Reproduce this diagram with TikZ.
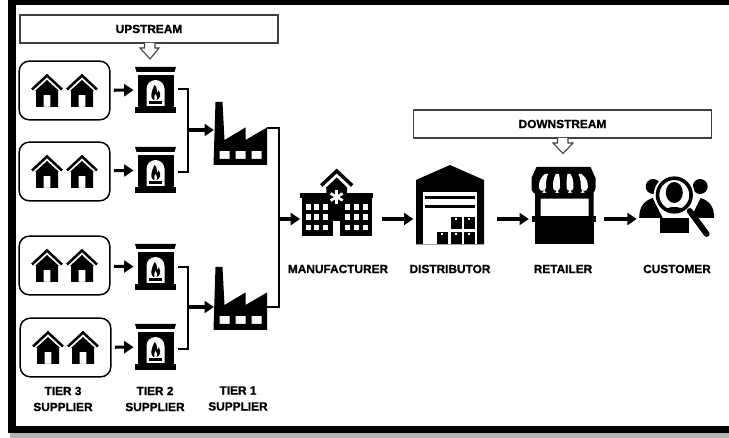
\documentclass[tikz,border=0pt]{standalone}
\usepackage{fontspec}
\setmainfont[BoldFeatures={FakeBold=0.9}]{Liberation Sans}
\usetikzlibrary{arrows.meta,positioning}

\def\u{0.75}
\tikzset{
	x=\u pt,y=-\u pt,
	anchorbox/.style={inner sep=0pt,outer sep=0pt},
	label text/.style={anchorbox,font=\bfseries\fontsize{8.9}{12}\selectfont,align=center},
	group box/.style={anchorbox,draw,rounded corners=7.5pt,line width=1.1pt,minimum width=68pt,minimum height=44pt},
	stream box/.style={anchorbox,draw=black!75,line width=0.9pt,minimum height=21pt,font=\bfseries\fontsize{8.9}{9}\selectfont},
	stream arrow/.style={draw=black!75,fill=white,line width=0.8pt,line join=miter},
	link/.style={line width=1.5pt},
	flow/.style={line width=2.3pt,-{Triangle[length=7pt,width=9pt]}},
	pics/homes/.style={code={
		\foreach \hx in {-17.5,17.5}{
			\begin{scope}[shift={(\hx,-16.5)}]
				\draw[line width=1.9pt,line join=miter] (-15,15.5) -- (0,1.5) -- (15,15.5);
				\fill[even odd rule] (0,6) -- (12,17) -- (11,17) -- (11,33) -- (-11,33) -- (-11,17) -- (-12,17) -- cycle
					(-3.3,21) rectangle (3.3,33);
			\end{scope}
		}
	}},
	pics/fireplace/.style={code={
		\begin{scope}[shift={(0,-23)}]
			\fill (-20.5,0) -- (20.5,0) -- (19,5) -- (-19,5) -- cycle;
			\fill (-18,8) rectangle (18,40);
			\fill (-20.5,40) rectangle (20.5,46);
			\fill[white] (-9,39) -- (-9,22) arc[start angle=180,end angle=360,radius=9] -- (9,39) -- cycle;
			\fill (-6.5,34.5) rectangle (6.5,37);
			\fill (-1,18) .. controls (3,21) and (0,24) .. (2,26) .. controls (3,25) and (3,24) .. (3,23)
				.. controls (6,27) and (5,32) .. (1,33) -- (-2,33) .. controls (-6,31) and (-4,24) .. (-1,18) -- cycle;
			\fill[white] (0,27) .. controls (2,29) and (2,31) .. (1,33) -- (-1,33) .. controls (-2,31) and (-1,29) .. (0,27) -- cycle;
		\end{scope}
	}},
	pics/factory/.style={code={
		\fill[even odd rule] (-25,0) -- (-18,0) -- (-16,38) -- (5,25.5) -- (5,38) -- (26.5,25.5)
			-- (26.5,63) -- (-27,63) -- cycle
			(-21,49) rectangle (-11,57) (-5,49) rectangle (5,57) (11,49) rectangle (21,57);
	}},
	pics/hospital/.style={code={
		\begin{scope}[shift={(0,-51)}]
			\draw[line width=2.6pt,line join=miter] (-15.5,17.5) -- (0,3) -- (15.5,17.5);
			\fill (0,9.5) -- (-10.5,19.5) -- (-10,30) -- (10,30) -- (10.5,19.5) -- cycle;
			\fill (-36.7,25) rectangle (36.7,30);
			\fill (-35,30) rectangle (35,67.7);
			\foreach \wy in {36,46,56.7}{
				\foreach \wx in {-31,-22.3,-13.3,8.3,17.3,26.7}{
					\fill[white] (\wx,\wy) rectangle ++(5,5.7);
				}
			}
			\fill[white] (-3.3,52.7) rectangle (3.3,67.7);
			\foreach \a in {30,90,150}{
				\draw[white,line width=2pt] (0,29) ++(\a:7) -- ++(\a+180:14);
			}
		\end{scope}
	}},
	pics/warehouse/.style={code={
		\begin{scope}[shift={(0,-54)}]
			\fill (-34,15) -- (0,0) -- (34,15) -- (34,79.3) -- (-34,79.3) -- cycle;
			\fill[white] (-27.3,26.7) rectangle (27.3,79.3);
			\fill (-24.7,31) rectangle (25,34.3);
			\fill (-24.7,40) rectangle (25,43.3);
			\foreach \bx/\by in {-12.7/67.3,0.7/67.3,14/67.3,0.7/52.3,14/52.3}{
				\fill (\bx,\by) rectangle ++(11,12);
				\fill[white] (\bx+4,\by+1) rectangle ++(2,1.5);
			}
		\end{scope}
	}},
	pics/shop/.style={code={
		\begin{scope}[shift={(0,-52)}]
			\fill (-27,0) -- (27,0) -- (32,11) -- (32,21) arc[start angle=0,end angle=180,radius=6.4]
				arc[start angle=0,end angle=180,radius=6.4] arc[start angle=0,end angle=180,radius=6.4]
				arc[start angle=0,end angle=180,radius=6.4] arc[start angle=0,end angle=180,radius=6.4]
				-- (-32,11) -- cycle;
			\foreach \tx/\bx in {-17/-21,-6/-7,5.5/6.5,16.5/20.8}{
				\fill[white] (\tx-1.5,7) -- (\tx+1.5,7) .. controls (\bx+3.5,12) and (\bx+3.5,16) .. (\bx+3.5,20.5)
					.. controls (\bx+3.5,25) and (\bx-3.5,25) .. (\bx-3.5,20.5)
					.. controls (\bx-3.5,16) and (\bx-3.5,12) .. (\tx-1.5,7) -- cycle;
			}
			\fill[even odd rule] (-28.5,26) rectangle (30,50) (-22.8,31.7) rectangle (25,50);
			\fill (-32,49.3) rectangle (32,55);
			\fill (-28.5,55) rectangle (30,77.5);
		\end{scope}
	}},
	pics/searcher/.style={code={
		\begin{scope}[shift={(0,-32)}]
			\foreach \sgn in {-1,1}{
				\fill (\sgn*23.5,12.5) circle[radius=7.5];
				\fill (\sgn*37.5,44) .. controls (\sgn*37.5,33) and (\sgn*33,27) .. (\sgn*24,24)
					-- (\sgn*14,44) -- cycle;
			}
			\fill (-16.7,59) -- (-16.7,44) -- (12.3,44) -- (12.3,59) -- cycle;
			\fill[white] (-2.4,21) circle[radius=20.5];
			\begin{scope}
				\clip (-2.4,21) circle[radius=15.5];
				\fill (-2.4,46) ellipse[x radius=17,y radius=13];
			\end{scope}
			\fill (-2.4,18.5) ellipse[x radius=8.5,y radius=10.5];
			\draw[line width=2.7pt] (-2.4,21) circle[radius=16.8];
			\draw[line width=4.4pt,line cap=round] (13,37) -- (30,60);
		\end{scope}
	}},
}

\begin{document}
\begin{tikzpicture}
	% page and frame
	\useasboundingbox (0,0) rectangle (729,438);
	\fill[black!30] (10,433) rectangle (729,438);
	\fill (8,0) rectangle (729,5);
	\fill (8,0) rectangle (16,433);
	\fill (8,426) rectangle (729,433);

	% tier 3 boxes
	\node[group box] (homesA) at (64.5,90.5) {};
	\node[group box] (homesB) at (64.5,171.5) {};
	\node[group box] (homesC) at (64.5,265.5) {};
	\node[group box] (homesD) at (65.5,347.5) {};
	% icons are placed on invisible nodes
	\node[anchorbox,minimum width=31pt,minimum height=35pt] (fireA) at (155.5,90) {};
	\node[anchorbox,minimum width=31pt,minimum height=35pt] (fireB) at (155.5,170) {};
	\node[anchorbox,minimum width=31pt,minimum height=35pt] (fireC) at (155.5,267) {};
	\node[anchorbox,minimum width=31pt,minimum height=35pt] (fireD) at (155.5,347) {};
	\node[anchorbox,minimum width=40pt,minimum height=47pt] (factA) at (240.5,128) {};
	\node[anchorbox,minimum width=40pt,minimum height=47pt] (factB) at (240.5,307) {};
	\node[anchorbox,minimum width=55pt,minimum height=51pt] (maker) at (336.7,219) {};
	\node[anchorbox,minimum width=51pt,minimum height=59pt] (depot) at (450,219) {};
	\node[anchorbox,minimum width=48pt,minimum height=58pt] (store) at (563.5,219) {};
	\node[anchorbox,minimum width=56pt,minimum height=48pt] (buyer) at (676.7,206) {};

	\foreach \n in {homesA,homesB,homesC,homesD}{
		\pic at (\n) {homes};
	}
	\foreach \n in {fireA,fireB,fireC,fireD}{
		\pic at (\n) {fireplace};
	}
	\pic at (240.5,102) {factory};
	\pic at (240.5,267) {factory};
	\pic at (maker) {hospital};
	\pic at (depot) {warehouse};
	\pic at (store) {shop};
	\pic at (buyer) {searcher};

	% labels
	\node[label text] (tierC) at (63,399) {TIER 3\\SUPPLIER};
	\node[label text] (tierB) at (155,399) {TIER 2\\SUPPLIER};
	\node[label text] (tierA) at (238,398.5) {TIER 1\\SUPPLIER};
	\node[label text] (makerlabel) at (338,269) {MANUFACTURER};
	\node[label text] (depotlabel) at (450,269) {DISTRIBUTOR};
	\node[label text] (storelabel) at (563,269) {RETAILER};
	\node[label text] (buyerlabel) at (677,269) {CUSTOMER};

	% stream banners
	\node[stream box,minimum width=193.5pt] (up) at (149,29) {UPSTREAM};
	\node[stream box,minimum width=224pt] (down) at (562.5,124) {DOWNSTREAM};
	\draw[stream arrow] (144.5,43) -- (144.5,48) -- (140,48) -- (150,59) -- (159,48) -- (155,48) -- (155,43);
	\draw[stream arrow] (557.5,138) -- (557.5,143) -- (553,143) -- (563,153.5) -- (573,143) -- (568,143) -- (568,138);

	% connectors
	\foreach \a/\b in {homesA/fireA,homesB/fireB,homesC/fireC,homesD/fireD}{
		\draw[flow,shorten <=3pt,shorten >=1pt] (\a) -- (\b);
	}
	\coordinate (joinA) at (188,130);
	\coordinate (joinB) at (188,307);
	\coordinate (joinC) at (279,219);
	\draw[link] (fireA.east) ++(2,-1) -| (joinA);
	\draw[link] (fireB.east) ++(2,2) -| (joinA);
	\draw[link] (fireC.east) ++(2,0) -| (joinB);
	\draw[link] (fireD.east) ++(2,2) -| (joinB);
	\draw[flow] (joinA) -- (joinA -| factA.west);
	\draw[flow] (joinB) -- (joinB -| factB.west);
	\draw[link] (factA.east) -| (joinC);
	\draw[link] (factB.east) -| (joinC);
	\draw[flow] (joinC) -- (joinC -| maker.west);
	\draw[flow,shorten <=2pt,shorten >=2pt] (maker) ++(43,0) -- (depot.west);
	\draw[flow,shorten <=2pt,shorten >=2pt] (depot) ++(44,0) -- (store.west);
	\draw[flow,shorten <=2pt,shorten >=2pt] (store) ++(38,0) -- (buyer.west |- store);
\end{tikzpicture}
\end{document}
